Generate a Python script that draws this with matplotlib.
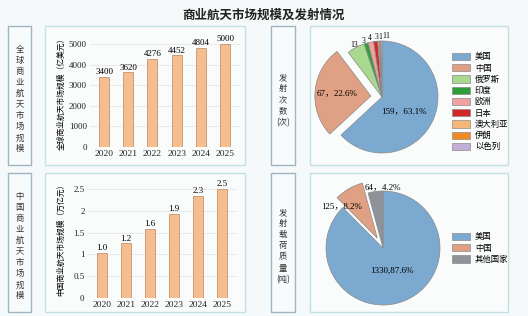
import numpy as np
import matplotlib
matplotlib.use("Agg")
import matplotlib.pyplot as plt
from matplotlib.patches import Rectangle

plt.rcParams['font.family'] = ['Liberation Serif', 'Noto Sans CJK SC', 'DejaVu Sans']

# data
years = ['2020', '2021', '2022', '2023', '2024', '2025']
global_market = [3400, 3620, 4276, 4452, 4804, 5000]
china_market = [1.03, 1.25, 1.58, 1.93, 2.34, 2.5]
china_market_labels = ['1.0', '1.2', '1.6', '1.9', '2.3', '2.5']

launch_countries = ['美国', '中国', '俄罗斯', '印度', '欧洲', '日本', '澳大利亚', '伊朗', '以色列']
launch_counts = [159, 67, 13, 3, 4, 3, 1, 1, 1]
launch_labels = ['159，63.1%', '67，22.6%', '13', '3', '4', '3', '1', '1', '1']
launch_colors = ['#7ba9cf', '#dfa083', '#a9d98f', '#2f9e3a', '#f2a1a3', '#d2282a',
                 '#f6b877', '#f18a25', '#c3afd4']

payload_countries = ['美国', '中国', '其他国家']
payload_mass = [1330, 125, 64]
payload_labels = ['1330,87.6%', '125，8.2%', '64，4.2%']
payload_colors = ['#7ba9cf', '#dfa083', '#8f9399']

W, H = 528, 316
fig = plt.figure(figsize=(W / 100, H / 100), dpi=100, facecolor='#f6f9fa')


def px_axes(x0, y0, x1, y1):
    return fig.add_axes([x0 / W, 1 - y1 / H, (x1 - x0) / W, (y1 - y0) / H])


def box(x0, y0, x1, y1, ec, fc):
    fig.add_artist(Rectangle((x0 / W, 1 - y1 / H), (x1 - x0) / W, (y1 - y0) / H,
                             transform=fig.transFigure, ec=ec, fc=fc, lw=1.0, zorder=0))


# frames
for y0, y1 in [(26, 165), (173, 312)]:
    box(8, y0, 31, y1, '#9fb6c4', '#f8fbfc')
    box(45, y0, 245, y1, '#c2e1e4', '#fafcfc')
    box(271, y0, 295, y1, '#9fb6c4', '#f8fbfc')
    box(310, y0, 508, y1, '#c2e1e4', '#fafcfc')

fig.text(0.5, 1 - 15 / H, '商业航天市场规模及发射情况', ha='center', va='center',
         fontsize=9, fontweight='bold', family=['Noto Sans CJK SC'], color='#222222')

side_font = dict(ha='center', va='center', fontsize=6, linespacing=1.3,
                 family=['Noto Sans CJK SC'], color='#333333')
fig.text(19.5 / W, 1 - 99 / H, '\n'.join('全球商业航天市场规模'), **side_font)
fig.text(19.5 / W, 1 - 246 / H, '\n'.join('中国商业航天市场规模'), **side_font)
fig.text(283 / W, 1 - 100 / H, '发\n射\n次\n数\n(次)', **side_font)
fig.text(283 / W, 1 - 246 / H, '发\n射\n载\n荷\n质\n量\n(吨)', **side_font)

bar_style = dict(width=0.42, color='#f6bd8f', edgecolor='#b68866', linewidth=0.5, zorder=3)


def style_bar_axes(ax):
    ax.set_facecolor('none')
    for s in ax.spines.values():
        s.set_visible(False)
    ax.grid(axis='y', color='#e2e2e2', lw=0.5, zorder=0)
    ax.tick_params(length=0, labelsize=6.5, pad=2, colors='#222222')
    ax.tick_params(axis='x', labelsize=6.8)
    ax.set_xlim(-0.6, len(years) - 0.4)


# global market bars
ax1 = px_axes(89.5, 35.8, 239.5, 147)
x = np.arange(len(years))
bars = ax1.bar(x, global_market, **bar_style)
ax1.set_xticks(x, years)
ax1.set_ylim(0, 5400)
ax1.set_yticks(range(0, 5001, 1000))
style_bar_axes(ax1)
ax1.bar_label(bars, labels=[str(v) for v in global_market], fontsize=6.5, padding=0.5)
ax1.set_ylabel('全球商业航天市场规模（亿美元）', fontsize=5.6, labelpad=2,
               family=['Noto Sans CJK SC'])

# china market bars
ax2 = px_axes(87.4, 178, 236.6, 298)
bars2 = ax2.bar(x, china_market, **bar_style)
ax2.set_xticks(x, years)
ax2.set_ylim(0, 2.75)
ax2.set_yticks([0, 0.5, 1, 1.5, 2, 2.5], ['0', '0.5', '1', '1.5', '2', '2.5'])
style_bar_axes(ax2)
ax2.bar_label(bars2, labels=china_market_labels, fontsize=6.5, padding=0.5)
ax2.set_ylabel('中国商业航天市场规模（万亿元）', fontsize=5.6, labelpad=6,
               family=['Noto Sans CJK SC'])


def pie_axes(cx, cy, r):
    s = 1.3 * r
    ax = px_axes(cx - s, cy - s, cx + s, cy + s)
    ax.set_facecolor('none')
    return ax


def place(ax, wedge, text, dist, dangle=0.0, size=6.5, **kw):
    ang = np.deg2rad((wedge.theta1 + wedge.theta2) / 2 + dangle)
    cx, cy = wedge.center
    ax.text(cx + dist * np.cos(ang), cy + dist * np.sin(ang), text,
            fontsize=size, ha=kw.pop('ha', 'center'), va='center', **kw)


# launches pie
ax3 = pie_axes(382, 97, 56)
explode = [0, 0.2] + [0] * 7
w3, _ = ax3.pie(launch_counts, colors=launch_colors, startangle=90, counterclock=False,
                explode=explode, wedgeprops=dict(edgecolor='#8a8a8a', linewidth=0.5))
ax3.set_xlim(-1.3, 1.3)
ax3.set_ylim(-1.3, 1.3)
place(ax3, w3[0], launch_labels[0], 0.47, dangle=-10)
place(ax3, w3[1], launch_labels[1], 0.6)
small_d = [1.06, 1.06, 1.07, 1.07, 1.08, 1.09, 1.1]
small_a = [0, 2, 0, -1, -2, -4, -6]
for w, t, d, a in zip(w3[2:], launch_labels[2:], small_d, small_a):
    place(ax3, w, t, d, dangle=a, size=5.5)
leg_kw = dict(loc='upper left', frameon=False, handlelength=2.1, handleheight=0.95,
              labelspacing=0.27, handletextpad=0.6, borderaxespad=0,
              prop=dict(family=['Noto Sans CJK SC'], size=6))
fig.legend(w3, launch_countries, bbox_to_anchor=(449 / W, 1 - 49 / H), **leg_kw)

# payload pie
ax4 = pie_axes(383, 248, 57)
w4, _ = ax4.pie(payload_mass, colors=payload_colors, startangle=90, counterclock=False,
                explode=[0, 0.2, 0], wedgeprops=dict(edgecolor='#8a8a8a', linewidth=0.5))
ax4.set_xlim(-1.3, 1.3)
ax4.set_ylim(-1.3, 1.3)
place(ax4, w4[0], payload_labels[0], 0.43)
place(ax4, w4[1], payload_labels[1], 0.85, dangle=18)
place(ax4, w4[2], payload_labels[2], 1.06, dangle=-7)
fig.legend(w4, payload_countries, bbox_to_anchor=(449 / W, 1 - 229 / H), **leg_kw)

fig.savefig('out.png', dpi=100, facecolor=fig.get_facecolor())
